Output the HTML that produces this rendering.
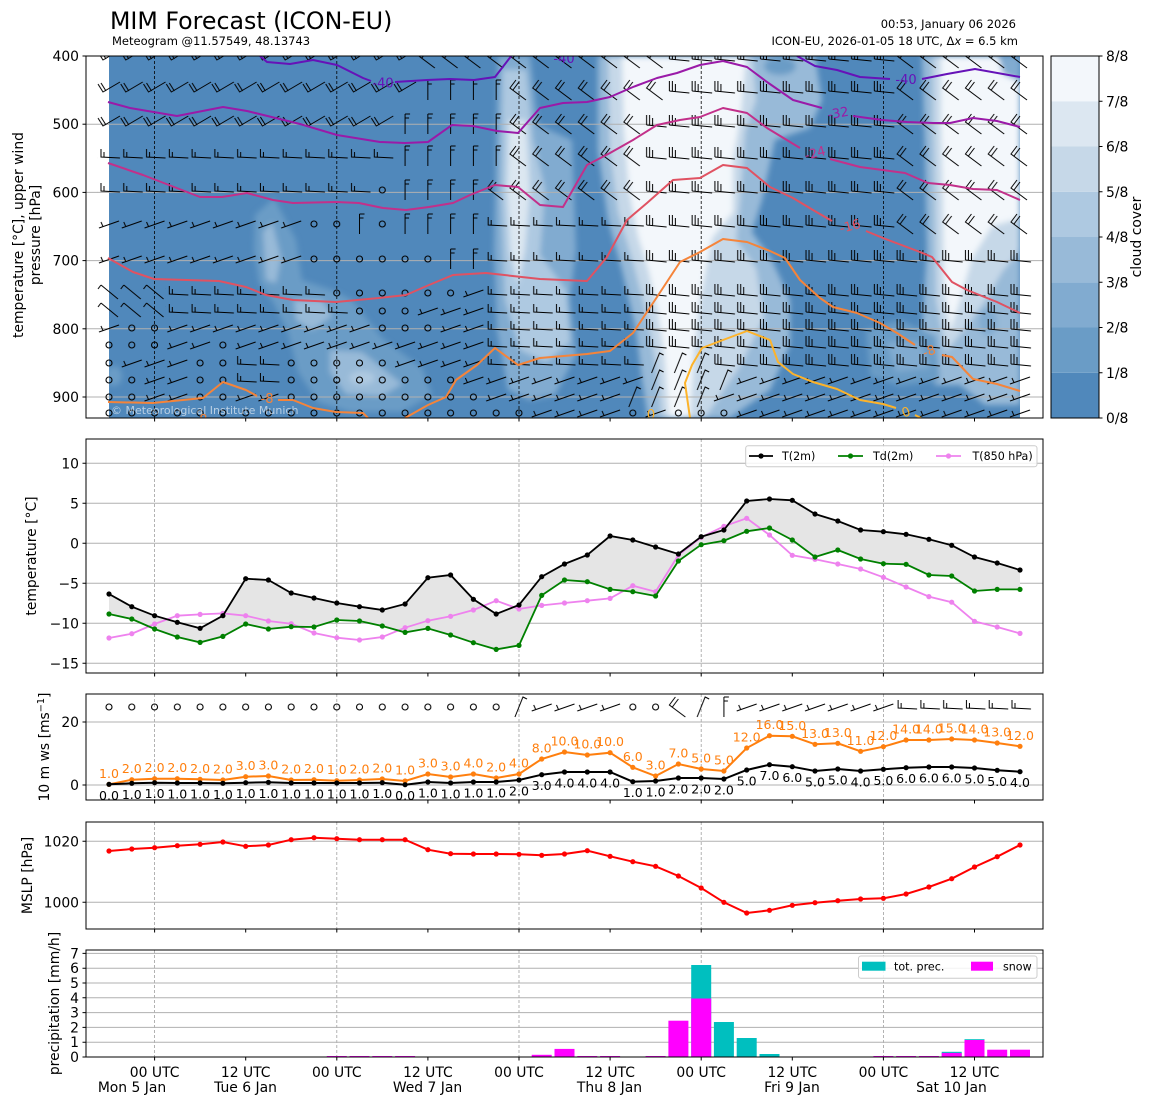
<!DOCTYPE html>
<html><head><meta charset="utf-8">
<style>
html,body{margin:0;padding:0;background:#fff;}
svg{display:block;}
svg text{font-family:"DejaVu Sans","Liberation Sans",sans-serif;}
</style></head>
<body>
<svg width="1155" height="1105" viewBox="0 0 1155 1105" xmlns="http://www.w3.org/2000/svg">
<defs>
<clipPath id="cpc"><rect x="109" y="56" width="911" height="362"/></clipPath>
<clipPath id="cp1"><rect x="86" y="56" width="957" height="362"/></clipPath>
<filter id="bl" x="-5%" y="-5%" width="110%" height="110%"><feGaussianBlur stdDeviation="3"/></filter>
<pattern id="pV" x="97.6125" y="-13" width="22.775" height="26" patternUnits="userSpaceOnUse"><path transform="translate(11.3875,13)" d="M-11,-6 L-6,2 L11,-8 M-8,-7 L-3,1" fill="none" stroke="#000" stroke-width="1"/></pattern>
<pattern id="pL" x="97.6125" y="-13" width="22.775" height="26" patternUnits="userSpaceOnUse"><path transform="translate(11.3875,13)" d="M-9,1 L11,3 M-9,1 L-9,-9 M-6,1.3 L-6,-9 M-3,1.6 L-3,-6" fill="none" stroke="#000" stroke-width="1"/></pattern>
<pattern id="pH" x="97.6125" y="-13" width="22.775" height="26" patternUnits="userSpaceOnUse"><path transform="translate(11.3875,13)" d="M-8,-7 L-8,1 L11,2 M-5,1.2 L-5,-4" fill="none" stroke="#000" stroke-width="1"/></pattern>
<pattern id="pN" x="97.6125" y="-13" width="22.775" height="26" patternUnits="userSpaceOnUse"><path transform="translate(11.3875,13)" d="M-3,-10 L-9,-2 L7,10 M0,-8 L-6,0" fill="none" stroke="#000" stroke-width="1"/></pattern>
<pattern id="pS" x="97.6125" y="-13" width="22.775" height="26" patternUnits="userSpaceOnUse"><path transform="translate(11.3875,13)" d="M-10,4 L10,-3 M-6,2.6 L-8,-2" fill="none" stroke="#000" stroke-width="1"/></pattern>
<pattern id="pS2" x="97.6125" y="-13" width="22.775" height="26" patternUnits="userSpaceOnUse"><path transform="translate(11.3875,13)" d="M-8,-8 L9,6 M-8,-8 L-11,-4" fill="none" stroke="#000" stroke-width="1"/></pattern>
<pattern id="pD" x="97.6125" y="-13" width="22.775" height="26" patternUnits="userSpaceOnUse"><path transform="translate(11.3875,13)" d="M-4,10 L4,-10 L8,-8" fill="none" stroke="#000" stroke-width="1"/></pattern>
<pattern id="pU" x="97.6125" y="-13" width="22.775" height="26" patternUnits="userSpaceOnUse"><path transform="translate(11.3875,13)" d="M0,-10 L0,10 M0,-10 L5,-10 M0,-6 L4,-6" fill="none" stroke="#000" stroke-width="1"/></pattern>
<pattern id="pC" x="97.6125" y="-13" width="22.775" height="26" patternUnits="userSpaceOnUse"><circle cx="11.3875" cy="13" r="3" fill="none" stroke="#000" stroke-width="1.1"/></pattern>
<marker id="mk" markerWidth="6" markerHeight="6" refX="3" refY="3" markerUnits="userSpaceOnUse"><circle cx="3" cy="3" r="2.6" fill="#000"/></marker>
<marker id="mg" markerWidth="6" markerHeight="6" refX="3" refY="3" markerUnits="userSpaceOnUse"><circle cx="3" cy="3" r="2.6" fill="#008000"/></marker>
<marker id="mv" markerWidth="6" markerHeight="6" refX="3" refY="3" markerUnits="userSpaceOnUse"><circle cx="3" cy="3" r="2.6" fill="#ee82ee"/></marker>
<marker id="mo" markerWidth="6" markerHeight="6" refX="3" refY="3" markerUnits="userSpaceOnUse"><circle cx="3" cy="3" r="2.6" fill="#ff7f0e"/></marker>
<marker id="mr" markerWidth="6" markerHeight="6" refX="3" refY="3" markerUnits="userSpaceOnUse"><circle cx="3" cy="3" r="2.6" fill="#ff0000"/></marker>
</defs>

<!-- Titles -->
<text x="110" y="29" font-size="23.7">MIM Forecast (ICON-EU)</text>
<text x="112" y="45" font-size="11.5">Meteogram @11.57549, 48.13743</text>
<text x="1016" y="28" font-size="11.5" text-anchor="end">00:53, January 06 2026</text>
<text x="1018" y="45" font-size="11.5" text-anchor="end">ICON-EU, 2026-01-05 18 UTC, Δ<tspan font-style="italic">x</tspan> = 6.5 km</text>

<!-- ============ PANEL 1 ============ -->
<rect x="109" y="56" width="911" height="362" fill="#5088bb"/>
<g clip-path="url(#cpc)">
<g filter="url(#bl)">
<path fill="#81abd0" d="M498,56 L530,56 L538,125 L572,140 L576,250 L570,300 L576,355 L555,395 L530,400 L508,390 L497,330 L494,250 L496,150 Z"/>
<path fill="#aec9e1" d="M503,70 L526,70 L533,140 L545,190 L540,255 L566,290 L570,342 L546,362 L520,350 L505,300 L501,200 Z"/>
<path fill="#dce7f1" d="M509,120 L526,120 L530,190 L525,250 L518,285 L510,250 L507,190 Z"/>
<path fill="#98bad8" d="M598,56 L815,56 L822,100 L810,128 L775,140 L762,200 L752,232 L772,260 L790,300 L790,345 L770,390 L730,418 L648,418 L642,380 L636,330 L622,270 L608,220 L598,150 Z"/>
<ellipse cx="780" cy="66" rx="16" ry="9" fill="#6a9cc6"/>
<path fill="#c6d8e8" d="M608,56 L752,56 L756,100 L745,132 L740,200 L736,240 L756,268 L764,318 L740,366 L705,418 L662,418 L657,370 L648,320 L633,262 L618,212 L610,150 Z"/>
<path fill="#f3f7fb" d="M622,56 L746,56 L741,112 L733,160 L733,212 L712,238 L700,300 L694,350 L690,418 L669,418 L665,360 L658,312 L649,272 L638,236 L629,190 L624,130 Z"/>
<path fill="#98bad8" d="M922,56 L1020,56 L1020,405 L985,405 L960,385 L935,385 L922,330 L927,250 L925,150 Z"/>
<path fill="#c6d8e8" d="M933,56 L1020,56 L1020,250 L1002,272 L986,300 L962,332 L946,352 L936,300 L935,200 L933,120 Z"/>
<path fill="#f3f7fb" d="M941,56 L1020,56 L1020,218 L992,226 L972,258 L960,300 L950,332 L944,282 L943,200 L941,120 Z"/>
<path fill="#81abd0" d="M998,56 L1020,56 L1020,82 L1003,74 Z"/>
<ellipse cx="988" cy="322" rx="9" ry="14" fill="#81abd0"/>
<path fill="#6a9cc6" d="M255,215 L274,198 L296,240 L302,280 L332,290 L352,300 L382,338 L422,368 L432,395 L402,412 L350,412 L318,402 L298,372 L288,332 L273,302 L259,282 L254,250 Z"/>
<path fill="#98bad8" d="M263,232 L272,222 L281,258 L276,283 L266,280 Z"/>
<path fill="#98bad8" d="M294,300 L322,300 L332,316 L312,330 L296,320 Z"/>
<path fill="#98bad8" d="M330,350 L362,352 L402,384 L382,396 L346,394 L330,372 Z"/>
<ellipse cx="362" cy="378" rx="13" ry="7" fill="#aec9e1"/>
<ellipse cx="114" cy="376" rx="8" ry="10" fill="#6a9cc6"/>
<path fill="#6a9cc6" d="M866,330 L900,320 L936,336 L940,380 L900,386 L870,376 Z"/>
<path fill="#81abd0" d="M886,342 L920,342 L930,368 L896,372 Z"/>
</g>
</g>

<!-- grid panel 1 -->
<g stroke="#b0b0b0" stroke-width="1">
<line x1="86" y1="124.2" x2="1043" y2="124.2"/>
<line x1="86" y1="192.4" x2="1043" y2="192.4"/>
<line x1="86" y1="260.6" x2="1043" y2="260.6"/>
<line x1="86" y1="328.8" x2="1043" y2="328.8"/>
<line x1="86" y1="397" x2="1043" y2="397"/>
</g>
<g stroke="#000" stroke-width="0.8" stroke-dasharray="3,2">
<line x1="154.6" y1="56" x2="154.6" y2="418"/>
<line x1="336.8" y1="56" x2="336.8" y2="418"/>
<line x1="519" y1="56" x2="519" y2="418"/>
<line x1="701.2" y1="56" x2="701.2" y2="418"/>
<line x1="883.4" y1="56" x2="883.4" y2="418"/>
</g>

<!-- barbs -->
<g clip-path="url(#cp1)">
<g transform="translate(0,58)">
<rect x="97.61" y="-13" width="318.85" height="26" fill="url(#pV)"/>
<rect x="416.46" y="-13" width="113.88" height="26" fill="url(#pN)"/>
<rect x="530.34" y="-13" width="136.65" height="26" fill="url(#pN)"/>
<rect x="666.99" y="-13" width="227.75" height="26" fill="url(#pL)"/>
<rect x="894.74" y="-13" width="136.65" height="26" fill="url(#pN)"/>
</g>
<g transform="translate(0,90)">
<rect x="97.61" y="-13" width="318.85" height="26" fill="url(#pV)"/>
<rect x="416.46" y="-13" width="91.1" height="26" fill="url(#pU)"/>
<rect x="507.56" y="-13" width="159.43" height="26" fill="url(#pN)"/>
<rect x="666.99" y="-13" width="227.75" height="26" fill="url(#pL)"/>
<rect x="894.74" y="-13" width="136.65" height="26" fill="url(#pN)"/>
</g>
<g transform="translate(0,124)">
<rect x="97.61" y="-13" width="296.08" height="26" fill="url(#pV)"/>
<rect x="393.69" y="-13" width="113.88" height="26" fill="url(#pU)"/>
<rect x="507.56" y="-13" width="136.65" height="26" fill="url(#pN)"/>
<rect x="644.21" y="-13" width="250.53" height="26" fill="url(#pL)"/>
<rect x="894.74" y="-13" width="136.65" height="26" fill="url(#pN)"/>
</g>
<g transform="translate(0,156)">
<rect x="97.61" y="-13" width="296.08" height="26" fill="url(#pH)"/>
<rect x="393.69" y="-13" width="113.88" height="26" fill="url(#pU)"/>
<rect x="507.56" y="-13" width="136.65" height="26" fill="url(#pN)"/>
<rect x="644.21" y="-13" width="250.53" height="26" fill="url(#pL)"/>
<rect x="894.74" y="-13" width="136.65" height="26" fill="url(#pN)"/>
</g>
<g transform="translate(0,190)">
<rect x="97.61" y="-13" width="273.3" height="26" fill="url(#pH)"/>
<rect x="370.91" y="-13" width="22.78" height="26" fill="url(#pC)"/>
<rect x="393.69" y="-13" width="91.1" height="26" fill="url(#pU)"/>
<rect x="484.79" y="-13" width="159.43" height="26" fill="url(#pN)"/>
<rect x="644.21" y="-13" width="250.53" height="26" fill="url(#pL)"/>
<rect x="894.74" y="-13" width="136.65" height="26" fill="url(#pN)"/>
</g>
<g transform="translate(0,224)">
<rect x="97.61" y="-13" width="204.98" height="26" fill="url(#pS)"/>
<rect x="302.59" y="-13" width="45.55" height="26" fill="url(#pC)"/>
<rect x="348.14" y="-13" width="22.78" height="26" fill="url(#pU)"/>
<rect x="370.91" y="-13" width="22.78" height="26" fill="url(#pC)"/>
<rect x="393.69" y="-13" width="91.1" height="26" fill="url(#pU)"/>
<rect x="484.79" y="-13" width="159.43" height="26" fill="url(#pH)"/>
<rect x="644.21" y="-13" width="250.53" height="26" fill="url(#pL)"/>
<rect x="894.74" y="-13" width="136.65" height="26" fill="url(#pN)"/>
</g>
<g transform="translate(0,259)">
<rect x="97.61" y="-13" width="204.98" height="26" fill="url(#pS)"/>
<rect x="302.59" y="-13" width="136.65" height="26" fill="url(#pC)"/>
<rect x="439.24" y="-13" width="45.55" height="26" fill="url(#pU)"/>
<rect x="484.79" y="-13" width="159.43" height="26" fill="url(#pH)"/>
<rect x="644.21" y="-13" width="387.18" height="26" fill="url(#pL)"/>
</g>
<g transform="translate(0,293)">
<rect x="97.61" y="-13" width="68.33" height="26" fill="url(#pS2)"/>
<rect x="165.94" y="-13" width="159.43" height="26" fill="url(#pH)"/>
<rect x="325.36" y="-13" width="136.65" height="26" fill="url(#pC)"/>
<rect x="462.01" y="-13" width="22.78" height="26" fill="url(#pS)"/>
<rect x="484.79" y="-13" width="159.43" height="26" fill="url(#pH)"/>
<rect x="644.21" y="-13" width="387.18" height="26" fill="url(#pL)"/>
</g>
<g transform="translate(0,311)">
<rect x="97.61" y="-13" width="68.33" height="26" fill="url(#pS2)"/>
<rect x="165.94" y="-13" width="182.2" height="26" fill="url(#pH)"/>
<rect x="348.14" y="-13" width="68.33" height="26" fill="url(#pC)"/>
<rect x="416.46" y="-13" width="68.33" height="26" fill="url(#pS)"/>
<rect x="484.79" y="-13" width="159.43" height="26" fill="url(#pH)"/>
<rect x="644.21" y="-13" width="387.18" height="26" fill="url(#pL)"/>
</g>
<g transform="translate(0,328)">
<rect x="97.61" y="-13" width="22.78" height="26" fill="url(#pS)"/>
<rect x="120.39" y="-13" width="45.55" height="26" fill="url(#pC)"/>
<rect x="165.94" y="-13" width="204.98" height="26" fill="url(#pS)"/>
<rect x="370.91" y="-13" width="68.33" height="26" fill="url(#pC)"/>
<rect x="439.24" y="-13" width="45.55" height="26" fill="url(#pS)"/>
<rect x="484.79" y="-13" width="159.43" height="26" fill="url(#pH)"/>
<rect x="644.21" y="-13" width="387.18" height="26" fill="url(#pL)"/>
</g>
<g transform="translate(0,345)">
<rect x="97.61" y="-13" width="68.33" height="26" fill="url(#pC)"/>
<rect x="165.94" y="-13" width="45.55" height="26" fill="url(#pS)"/>
<rect x="211.49" y="-13" width="22.78" height="26" fill="url(#pC)"/>
<rect x="234.26" y="-13" width="250.53" height="26" fill="url(#pS)"/>
<rect x="484.79" y="-13" width="159.43" height="26" fill="url(#pH)"/>
<rect x="644.21" y="-13" width="387.18" height="26" fill="url(#pL)"/>
</g>
<g transform="translate(0,363)">
<rect x="97.61" y="-13" width="22.78" height="26" fill="url(#pC)"/>
<rect x="120.39" y="-13" width="68.33" height="26" fill="url(#pS)"/>
<rect x="188.71" y="-13" width="45.55" height="26" fill="url(#pC)"/>
<rect x="234.26" y="-13" width="45.55" height="26" fill="url(#pH)"/>
<rect x="279.81" y="-13" width="113.88" height="26" fill="url(#pC)"/>
<rect x="393.69" y="-13" width="91.1" height="26" fill="url(#pS)"/>
<rect x="484.79" y="-13" width="159.43" height="26" fill="url(#pH)"/>
<rect x="644.21" y="-13" width="68.33" height="26" fill="url(#pD)"/>
<rect x="712.54" y="-13" width="318.85" height="26" fill="url(#pL)"/>
</g>
<g transform="translate(0,380)">
<rect x="97.61" y="-13" width="45.55" height="26" fill="url(#pC)"/>
<rect x="143.16" y="-13" width="45.55" height="26" fill="url(#pS)"/>
<rect x="188.71" y="-13" width="45.55" height="26" fill="url(#pC)"/>
<rect x="234.26" y="-13" width="45.55" height="26" fill="url(#pH)"/>
<rect x="279.81" y="-13" width="182.2" height="26" fill="url(#pC)"/>
<rect x="462.01" y="-13" width="182.2" height="26" fill="url(#pS)"/>
<rect x="644.21" y="-13" width="91.1" height="26" fill="url(#pD)"/>
<rect x="735.31" y="-13" width="296.08" height="26" fill="url(#pS)"/>
</g>
<g transform="translate(0,397)">
<rect x="97.61" y="-13" width="45.55" height="26" fill="url(#pC)"/>
<rect x="143.16" y="-13" width="45.55" height="26" fill="url(#pS)"/>
<rect x="188.71" y="-13" width="45.55" height="26" fill="url(#pC)"/>
<rect x="234.26" y="-13" width="45.55" height="26" fill="url(#pS)"/>
<rect x="279.81" y="-13" width="204.98" height="26" fill="url(#pC)"/>
<rect x="484.79" y="-13" width="136.65" height="26" fill="url(#pS)"/>
<rect x="621.44" y="-13" width="91.1" height="26" fill="url(#pD)"/>
<rect x="712.54" y="-13" width="318.85" height="26" fill="url(#pS)"/>
</g>
<g transform="translate(0,413)">
<rect x="97.61" y="-13" width="432.73" height="26" fill="url(#pC)"/>
<rect x="530.34" y="-13" width="91.1" height="26" fill="url(#pS)"/>
<rect x="621.44" y="-13" width="22.78" height="26" fill="url(#pC)"/>
<rect x="644.21" y="-13" width="22.78" height="26" fill="url(#pS)"/>
<rect x="666.99" y="-13" width="68.33" height="26" fill="url(#pC)"/>
<rect x="735.31" y="-13" width="296.08" height="26" fill="url(#pS)"/>
</g>

<!-- isotherms -->
<g fill="none" stroke-width="2" stroke-linejoin="round">
<polyline stroke="#6612b8" points="260,56 267,62 290,64 313,60 337,65 363,78 371,81"/>
<polyline stroke="#6612b8" points="395,82 427,80 450,79 474,80 495,77 512,55"/>
<polyline stroke="#6612b8" points="797,56 815,66 837,70 860,77 890,79"/>
<polyline stroke="#6612b8" points="922,79 947,74 975,69 1020,77"/>
<polyline stroke="#9a1aa8" points="108,102 130,108 177,116 223,107 247,111 300,124 337,135 380,142 405,143 428,142 452,125 473,126 497,131 518,133 540,108 563,103 587,102 610,97 633,87 657,78 677,73 700,65 723,61 747,67 767,82 793,100 822,108"/>
<polyline stroke="#9a1aa8" points="853,116 882,120 907,122 933,123 950,123 973,118 997,121 1020,127"/>
<polyline stroke="#c2308a" points="108,163 143,175 200,197 222,197 247,193 273,200 293,203 336,202 359,203 383,208 406,210 429,207 453,203 470,195 495,185 518,187 540,205 563,207 587,165 610,153 633,140 657,125 680,120 700,117 723,108 747,113 767,128 800,148"/>
<polyline stroke="#c2308a" points="830,159 860,167 905,173 928,183 950,185 973,189 997,190 1020,200"/>
<polyline stroke="#e05262" points="108,258 133,272 154,279 219,281 246,287 266,295 293,300 336,302 379,298 406,295 429,285 453,275 486,273 540,279 587,281 607,257 627,220 647,203 673,180 700,178 723,165 747,168 770,187 793,198 813,210 832,221"/>
<polyline stroke="#e05262" points="866,231 883,238 920,252 932,257 952,282 967,290 997,302 1020,313"/>
<polyline stroke="#f5843a" points="108,402 153,403 203,398 223,382 246,390 257,396"/>
<polyline stroke="#f5843a" points="278,400 293,400 313,408 336,412 363,413 368,418"/>
<polyline stroke="#f5843a" points="405,418 428,405 446,397 456,380 477,365 495,348 518,365 540,358 587,354 610,351 633,333 657,297 680,262 700,252 723,239 747,242 770,251 785,258 800,280 820,298 833,307 857,313 880,323 897,333 915,345"/>
<polyline stroke="#f5843a" points="942,355 952,357 973,379 997,384 1020,391"/>
<polyline stroke="#fdb32a" points="690,418 685,383 692,365 702,348 723,340 747,331 770,340 778,362 793,374 813,382 837,389 860,400 883,404 896,408"/>
<polyline stroke="#fdb32a" points="915,415 921,418"/>
</g>
<g font-size="13" text-anchor="middle">
<text x="383" y="87.5" fill="#6612b8">-40</text>
<text x="564" y="63" fill="#6612b8">-40</text>
<text x="906" y="84" fill="#6612b8">-40</text>
<text transform="translate(838,113) rotate(-10)" y="4.5" fill="#9a1aa8">-32</text>
<text transform="translate(815,153) rotate(-15)" y="4.5" fill="#c2308a">-24</text>
<text transform="translate(850,226) rotate(-15)" y="4.5" fill="#e05262">-16</text>
<text transform="translate(929,351) rotate(-20)" y="4.5" fill="#f5843a">-8</text>
<text x="267" y="403" fill="#f5843a">-8</text>
<text x="201" y="424" fill="#f5843a">-8</text>
<text transform="translate(906,412) rotate(-20)" y="4.5" fill="#fdb32a">0</text>
<text x="651" y="419" fill="#fdb32a">0</text>
</g>
</g>
<text x="111" y="414" font-size="11" fill="#ffffff" fill-opacity="0.6">© Meteorological Institute Munich</text>
<rect x="86" y="56" width="957" height="362" fill="none" stroke="#000" stroke-width="1"/>

<!-- panel 1 y ticks -->
<g stroke="#000" stroke-width="1">
<line x1="82.5" y1="56" x2="86" y2="56"/><line x1="82.5" y1="124.2" x2="86" y2="124.2"/><line x1="82.5" y1="192.4" x2="86" y2="192.4"/><line x1="82.5" y1="260.6" x2="86" y2="260.6"/><line x1="82.5" y1="328.8" x2="86" y2="328.8"/><line x1="82.5" y1="397" x2="86" y2="397"/>
</g>
<g font-size="13.9" text-anchor="end">
<text x="79" y="61">400</text><text x="79" y="129.2">500</text><text x="79" y="197.4">600</text><text x="79" y="265.6">700</text><text x="79" y="333.8">800</text><text x="79" y="402">900</text>
</g>
<text transform="translate(23,235) rotate(-90)" font-size="13.9" text-anchor="middle">temperature [°C], upper wind</text>
<text transform="translate(40,235) rotate(-90)" font-size="13.9" text-anchor="middle">pressure [hPa]</text>

<!-- colorbar -->
<rect x="1051" y="372.75" width="48" height="45.25" fill="#5088bb"/>
<rect x="1051" y="327.5" width="48" height="45.25" fill="#6a9cc6"/>
<rect x="1051" y="282.25" width="48" height="45.25" fill="#81abd0"/>
<rect x="1051" y="237" width="48" height="45.25" fill="#98bad8"/>
<rect x="1051" y="191.75" width="48" height="45.25" fill="#aec9e1"/>
<rect x="1051" y="146.5" width="48" height="45.25" fill="#c6d8e8"/>
<rect x="1051" y="101.25" width="48" height="45.25" fill="#dce7f1"/>
<rect x="1051" y="56" width="48" height="45.25" fill="#f3f7fb"/>
<rect x="1051" y="56" width="48" height="362" fill="none" stroke="#000" stroke-width="1"/>
<g stroke="#000" stroke-width="1">
<line x1="1099" y1="56" x2="1102.5" y2="56"/><line x1="1099" y1="101.25" x2="1102.5" y2="101.25"/><line x1="1099" y1="146.5" x2="1102.5" y2="146.5"/><line x1="1099" y1="191.75" x2="1102.5" y2="191.75"/><line x1="1099" y1="237" x2="1102.5" y2="237"/><line x1="1099" y1="282.25" x2="1102.5" y2="282.25"/><line x1="1099" y1="327.5" x2="1102.5" y2="327.5"/><line x1="1099" y1="372.75" x2="1102.5" y2="372.75"/><line x1="1099" y1="418" x2="1102.5" y2="418"/>
</g>
<g font-size="13.9">
<text x="1106" y="61">8/8</text><text x="1106" y="106.25">7/8</text><text x="1106" y="151.5">6/8</text><text x="1106" y="196.75">5/8</text><text x="1106" y="242">4/8</text><text x="1106" y="287.25">3/8</text><text x="1106" y="332.5">2/8</text><text x="1106" y="377.75">1/8</text><text x="1106" y="423">0/8</text>
</g>
<text transform="translate(1141,237) rotate(-90)" font-size="13.9" text-anchor="middle">cloud cover</text>

<!-- bottom ticks for panels 1-5 -->
<g stroke="#000" stroke-width="1">
<path d="M154.6,418v3.5M245.7,418v3.5M336.8,418v3.5M427.9,418v3.5M519,418v3.5M610.1,418v3.5M701.2,418v3.5M792.3,418v3.5M883.4,418v3.5M974.5,418v3.5"/>
<path d="M154.6,673v3.5M245.7,673v3.5M336.8,673v3.5M427.9,673v3.5M519,673v3.5M610.1,673v3.5M701.2,673v3.5M792.3,673v3.5M883.4,673v3.5M974.5,673v3.5"/>
<path d="M154.6,800v3.5M245.7,800v3.5M336.8,800v3.5M427.9,800v3.5M519,800v3.5M610.1,800v3.5M701.2,800v3.5M792.3,800v3.5M883.4,800v3.5M974.5,800v3.5"/>
<path d="M154.6,929v3.5M245.7,929v3.5M336.8,929v3.5M427.9,929v3.5M519,929v3.5M610.1,929v3.5M701.2,929v3.5M792.3,929v3.5M883.4,929v3.5M974.5,929v3.5"/>
<path d="M154.6,1057v3.5M245.7,1057v3.5M336.8,1057v3.5M427.9,1057v3.5M519,1057v3.5M610.1,1057v3.5M701.2,1057v3.5M792.3,1057v3.5M883.4,1057v3.5M974.5,1057v3.5"/>
</g>

<!-- vertical dashed gray for panels 2-5 -->
<g stroke="#a0a0a0" stroke-width="0.8" stroke-dasharray="3,2">
<path d="M154.6,439V673M336.8,439V673M519,439V673M701.2,439V673M883.4,439V673"/>
<path d="M154.6,694V800M336.8,694V800M519,694V800M701.2,694V800M883.4,694V800"/>
<path d="M154.6,822V929M336.8,822V929M519,822V929M701.2,822V929M883.4,822V929"/>
<path d="M154.6,950V1057M336.8,950V1057M519,950V1057M701.2,950V1057M883.4,950V1057"/>
</g>

<!-- ============ PANEL 2 ============ -->
<g stroke="#b0b0b0" stroke-width="1">
<path d="M86,463.3H1043M86,503.3H1043M86,543.3H1043M86,583.3H1043M86,623.3H1043M86,663.3H1043"/>
</g>
<polygon fill="#e5e5e5" points="109,594 131.8,606.7 154.6,615.7 177.3,622.3 200.1,628.3 222.9,615.7 245.7,578.7 268.4,580 291.2,593 314,598 336.8,603 359.5,606.7 382.3,610 405.1,604 427.9,577.7 450.6,575 473.4,599.3 496.2,614 519,605 541.7,576.7 564.5,564 587.3,555 610.1,536 632.8,540 655.6,547 678.4,554 701.2,536.7 723.9,530 746.7,501 769.5,499 792.3,500.3 815,514 837.8,521 860.6,530 883.4,531.7 906.1,534.3 928.9,539.3 951.7,545.3 974.5,557 997.2,563 1020,570 1020,589.4 997.2,589.4 974.5,591 951.7,576 928.9,575 906.1,564.3 883.4,563.7 860.6,559 837.8,550 815,557 792.3,540 769.5,528 746.7,531.3 723.9,540.7 701.2,544.7 678.4,561 655.6,596 632.8,591.7 610.1,589.4 587.3,581.7 564.5,580 541.7,595.4 519,645.4 496.2,649.4 473.4,642.7 450.6,635 427.9,628.4 405.1,632.4 382.3,626 359.5,621 336.8,620 314,627 291.2,626.7 268.4,629 245.7,624 222.9,636.4 200.1,642.4 177.3,637 154.6,629 131.8,619 109,614"/>
<polyline fill="none" stroke="#ee82ee" stroke-width="1.8" marker-start="url(#mv)" marker-mid="url(#mv)" marker-end="url(#mv)" points="109,638 131.8,633.7 154.6,624 177.3,615.7 200.1,614.4 222.9,613.4 245.7,615.7 268.4,621 291.2,623.7 314,633 336.8,637.7 359.5,640 382.3,637 405.1,627.7 427.9,620.7 450.6,616.3 473.4,610 496.2,600.7 519,609 541.7,605.4 564.5,603 587.3,600.7 610.1,598.4 632.8,585.7 655.6,591.7 678.4,555 701.2,537.3 723.9,526.3 746.7,518.3 769.5,535 792.3,555.3 815,559.3 837.8,564 860.6,569 883.4,577.3 906.1,587 928.9,596.6 951.7,602.2 974.5,621.4 997.2,627 1020,633.4"/>
<polyline fill="none" stroke="#008000" stroke-width="1.8" marker-start="url(#mg)" marker-mid="url(#mg)" marker-end="url(#mg)" points="109,614 131.8,619 154.6,629 177.3,637 200.1,642.4 222.9,636.4 245.7,624 268.4,629 291.2,626.7 314,627 336.8,620 359.5,621 382.3,626 405.1,632.4 427.9,628.4 450.6,635 473.4,642.7 496.2,649.4 519,645.4 541.7,595.4 564.5,580 587.3,581.7 610.1,589.4 632.8,591.7 655.6,596 678.4,561 701.2,544.7 723.9,540.7 746.7,531.3 769.5,528 792.3,540 815,557 837.8,550 860.6,559 883.4,563.7 906.1,564.3 928.9,575 951.7,576 974.5,591 997.2,589.4 1020,589.4"/>
<polyline fill="none" stroke="#000" stroke-width="1.8" marker-start="url(#mk)" marker-mid="url(#mk)" marker-end="url(#mk)" points="109,594 131.8,606.7 154.6,615.7 177.3,622.3 200.1,628.3 222.9,615.7 245.7,578.7 268.4,580 291.2,593 314,598 336.8,603 359.5,606.7 382.3,610 405.1,604 427.9,577.7 450.6,575 473.4,599.3 496.2,614 519,605 541.7,576.7 564.5,564 587.3,555 610.1,536 632.8,540 655.6,547 678.4,554 701.2,536.7 723.9,530 746.7,501 769.5,499 792.3,500.3 815,514 837.8,521 860.6,530 883.4,531.7 906.1,534.3 928.9,539.3 951.7,545.3 974.5,557 997.2,563 1020,570"/>
<!-- legend panel 2 -->
<rect x="745.7" y="445.7" width="291.3" height="21" rx="2.5" fill="#fff" fill-opacity="0.85" stroke="#cccccc" stroke-width="1"/>
<line x1="749" y1="456" x2="773" y2="456" stroke="#000" stroke-width="1.8"/><circle cx="761" cy="456" r="2.6" fill="#000"/>
<line x1="838" y1="456" x2="863" y2="456" stroke="#008000" stroke-width="1.8"/><circle cx="850.5" cy="456" r="2.6" fill="#008000"/>
<line x1="936" y1="456" x2="961" y2="456" stroke="#ee82ee" stroke-width="1.8"/><circle cx="948.5" cy="456" r="2.6" fill="#ee82ee"/>
<g font-size="11.1"><text x="782" y="460">T(2m)</text><text x="873" y="460">Td(2m)</text><text x="972.5" y="460">T(850 hPa)</text></g>
<rect x="86" y="439" width="957" height="234" fill="none" stroke="#000" stroke-width="1"/>
<g stroke="#000" stroke-width="1"><path d="M82.5,463.3H86M82.5,503.3H86M82.5,543.3H86M82.5,583.3H86M82.5,623.3H86M82.5,663.3H86"/></g>
<g font-size="13.9" text-anchor="end">
<text x="79" y="468.3">10</text><text x="79" y="508.3">5</text><text x="79" y="548.3">0</text><text x="79" y="588.3">−5</text><text x="79" y="628.3">−10</text><text x="79" y="668.3">−15</text>
</g>
<text transform="translate(36,556) rotate(-90)" font-size="13.9" text-anchor="middle">temperature [°C]</text>

<!-- ============ PANEL 3 ============ -->
<g stroke="#b0b0b0" stroke-width="1"><path d="M86,722H1043M86,785H1043"/></g>
<g transform="translate(0,707)">
<rect x="97.61" y="-13" width="409.95" height="26" fill="url(#pC)"/>
<rect x="507.56" y="-13" width="22.78" height="26" fill="url(#pD)"/>
<rect x="530.34" y="-13" width="91.1" height="26" fill="url(#pS)"/>
<rect x="621.44" y="-13" width="45.55" height="26" fill="url(#pC)"/>
<rect x="666.99" y="-13" width="22.78" height="26" fill="url(#pN)"/>
<rect x="689.76" y="-13" width="22.78" height="26" fill="url(#pD)"/>
<rect x="712.54" y="-13" width="22.78" height="26" fill="url(#pU)"/>
<rect x="735.31" y="-13" width="159.43" height="26" fill="url(#pS)"/>
<rect x="894.74" y="-13" width="136.65" height="26" fill="url(#pH)"/>
</g>
<polyline fill="none" stroke="#ff7f0e" stroke-width="2" marker-start="url(#mo)" marker-mid="url(#mo)" marker-end="url(#mo)" points="109,784.3 131.8,779.7 154.6,778.7 177.3,778.7 200.1,779.3 222.9,780 245.7,776.7 268.4,776 291.2,780 314,779.7 336.8,780.7 359.5,780 382.3,779 405.1,781 427.9,774 450.6,777 473.4,774 496.2,778 519,774 541.7,759 564.5,752 587.3,755 610.1,752.7 632.8,767.3 655.6,776 678.4,764 701.2,769 723.9,771 746.7,748 769.5,735.7 792.3,736.3 815,744.3 837.8,743.3 860.6,751.3 883.4,746.7 906.1,740 928.9,740 951.7,739 974.5,740 997.2,743 1020,746.3"/>
<polyline fill="none" stroke="#000" stroke-width="2" marker-start="url(#mk)" marker-mid="url(#mk)" marker-end="url(#mk)" points="109,784.3 131.8,783.3 154.6,782.7 177.3,783 200.1,783 222.9,783.3 245.7,782.7 268.4,782.3 291.2,783 314,783 336.8,783 359.5,783 382.3,782.7 405.1,784.7 427.9,782 450.6,783 473.4,782 496.2,782 519,780 541.7,774.7 564.5,772 587.3,772 610.1,772 632.8,781.7 655.6,781 678.4,778 701.2,778 723.9,779 746.7,770 769.5,764.7 792.3,766.7 815,771 837.8,769 860.6,771 883.4,769.3 906.1,767.7 928.9,767 951.7,767 974.5,768 997.2,770.3 1020,771.7"/>
<g font-size="12.5" text-anchor="middle" fill="#ff7f0e">
<text x="109" y="777.8">1.0</text><text x="131.8" y="773.2">2.0</text><text x="154.6" y="772.2">2.0</text><text x="177.3" y="772.2">2.0</text><text x="200.1" y="772.8">2.0</text><text x="222.9" y="773.5">2.0</text><text x="245.7" y="770.2">3.0</text><text x="268.4" y="769.5">3.0</text><text x="291.2" y="773.5">2.0</text><text x="314" y="773.2">2.0</text><text x="336.8" y="774.2">1.0</text><text x="359.5" y="773.5">2.0</text><text x="382.3" y="772.5">2.0</text><text x="405.1" y="774.5">1.0</text><text x="427.9" y="767.5">3.0</text><text x="450.6" y="770.5">3.0</text><text x="473.4" y="767.5">4.0</text><text x="496.2" y="771.5">2.0</text><text x="519" y="767.5">4.0</text><text x="541.7" y="752.5">8.0</text><text x="564.5" y="745.5">10.0</text><text x="587.3" y="748.5">10.0</text><text x="610.1" y="746.2">10.0</text><text x="632.8" y="760.8">6.0</text><text x="655.6" y="769.5">3.0</text><text x="678.4" y="757.5">7.0</text><text x="701.2" y="762.5">5.0</text><text x="723.9" y="764.5">5.0</text><text x="746.7" y="741.5">12.0</text><text x="769.5" y="729.2">16.0</text><text x="792.3" y="729.8">15.0</text><text x="815" y="737.8">13.0</text><text x="837.8" y="736.8">13.0</text><text x="860.6" y="744.8">11.0</text><text x="883.4" y="740.2">12.0</text><text x="906.1" y="733.5">14.0</text><text x="928.9" y="733.5">14.0</text><text x="951.7" y="732.5">15.0</text><text x="974.5" y="733.5">14.0</text><text x="997.2" y="736.5">13.0</text><text x="1020" y="739.8">12.0</text>
</g>
<g font-size="12.5" text-anchor="middle" fill="#000">
<text x="109" y="799.8">0.0</text><text x="131.8" y="798.8">1.0</text><text x="154.6" y="798.2">1.0</text><text x="177.3" y="798.5">1.0</text><text x="200.1" y="798.5">1.0</text><text x="222.9" y="798.8">1.0</text><text x="245.7" y="798.2">1.0</text><text x="268.4" y="797.8">1.0</text><text x="291.2" y="798.5">1.0</text><text x="314" y="798.5">1.0</text><text x="336.8" y="798.5">1.0</text><text x="359.5" y="798.5">1.0</text><text x="382.3" y="798.2">1.0</text><text x="405.1" y="800.2">0.0</text><text x="427.9" y="797.5">1.0</text><text x="450.6" y="798.5">1.0</text><text x="473.4" y="797.5">1.0</text><text x="496.2" y="797.5">1.0</text><text x="519" y="795.5">2.0</text><text x="541.7" y="790.2">3.0</text><text x="564.5" y="787.5">4.0</text><text x="587.3" y="787.5">4.0</text><text x="610.1" y="787.5">4.0</text><text x="632.8" y="797.2">1.0</text><text x="655.6" y="796.5">1.0</text><text x="678.4" y="793.5">2.0</text><text x="701.2" y="793.5">2.0</text><text x="723.9" y="794.5">2.0</text><text x="746.7" y="785.5">5.0</text><text x="769.5" y="780.2">7.0</text><text x="792.3" y="782.2">6.0</text><text x="815" y="786.5">5.0</text><text x="837.8" y="784.5">5.0</text><text x="860.6" y="786.5">4.0</text><text x="883.4" y="784.8">5.0</text><text x="906.1" y="783.2">6.0</text><text x="928.9" y="782.5">6.0</text><text x="951.7" y="782.5">6.0</text><text x="974.5" y="783.5">5.0</text><text x="997.2" y="785.8">5.0</text><text x="1020" y="787.2">4.0</text>
</g>
<rect x="86" y="694" width="957" height="106" fill="none" stroke="#000" stroke-width="1"/>
<g stroke="#000" stroke-width="1"><path d="M82.5,722H86M82.5,785H86"/></g>
<g font-size="13.9" text-anchor="end"><text x="79" y="727">20</text><text x="79" y="790">0</text></g>
<text transform="translate(49,747) rotate(-90)" font-size="13.9" text-anchor="middle">10 m ws [ms<tspan dy="-5" font-size="9.7">−1</tspan><tspan dy="5">]</tspan></text>

<!-- ============ PANEL 4 ============ -->
<g stroke="#b0b0b0" stroke-width="1"><path d="M86,841.3H1043M86,902.3H1043"/></g>
<polyline fill="none" stroke="#ff0000" stroke-width="2" marker-start="url(#mr)" marker-mid="url(#mr)" marker-end="url(#mr)" points="109,851 131.8,849 154.6,847.7 177.3,845.7 200.1,844.3 222.9,842 245.7,846.3 268.4,845 291.2,839.7 314,837.7 336.8,838.7 359.5,839.7 382.3,839.7 405.1,839.7 427.9,849.7 450.6,853.7 473.4,854 496.2,854 519,854.3 541.7,855.3 564.5,854 587.3,850.7 610.1,856.3 632.8,861.7 655.6,866.3 678.4,876 701.2,888 723.9,902.3 746.7,913 769.5,910.3 792.3,905.3 815,902.7 837.8,900.7 860.6,899 883.4,898.3 906.1,894 928.9,887 951.7,878.7 974.5,867 997.2,856.7 1020,845"/>
<rect x="86" y="822" width="957" height="107" fill="none" stroke="#000" stroke-width="1"/>
<g stroke="#000" stroke-width="1"><path d="M82.5,841.3H86M82.5,902.3H86"/></g>
<g font-size="13.9" text-anchor="end"><text x="79" y="846.3">1020</text><text x="79" y="907.3">1000</text></g>
<text transform="translate(32,875.5) rotate(-90)" font-size="13.9" text-anchor="middle">MSLP [hPa]</text>

<!-- ============ PANEL 5 ============ -->
<g stroke="#b0b0b0" stroke-width="1"><path d="M86,1042.2H1043M86,1027.4H1043M86,1012.6H1043M86,997.8H1043M86,983H1043M86,968.2H1043M86,953.4H1043"/></g>
<g fill="#00bfbf">
<rect x="691.2" y="965" width="20" height="92"/>
<rect x="713.9" y="1022" width="20" height="35"/>
<rect x="736.7" y="1038" width="20" height="19"/>
<rect x="759.5" y="1054" width="20" height="3"/>
<rect x="941.7" y="1051.8" width="20" height="5.2"/>
<rect x="964.5" y="1039.2" width="20" height="17.8"/>
</g>
<g fill="#ff00ff">
<rect x="326.8" y="1056" width="20" height="1"/>
<rect x="349.5" y="1056" width="20" height="1"/>
<rect x="372.3" y="1056" width="20" height="1"/>
<rect x="395.1" y="1056" width="20" height="1"/>
<rect x="531.7" y="1054.8" width="20" height="2.2"/>
<rect x="554.5" y="1048.9" width="20" height="8.1"/>
<rect x="577.3" y="1056" width="20" height="1"/>
<rect x="600.1" y="1056" width="20" height="1"/>
<rect x="645.6" y="1056" width="20" height="1"/>
<rect x="668.4" y="1020.7" width="20" height="36.3"/>
<rect x="691.2" y="998.5" width="20" height="58.5"/>
<rect x="873.4" y="1056" width="20" height="1"/>
<rect x="896.1" y="1056" width="20" height="1"/>
<rect x="918.9" y="1056" width="20" height="1"/>
<rect x="941.7" y="1052.9" width="20" height="4.1"/>
<rect x="964.5" y="1040" width="20" height="17"/>
<rect x="987.2" y="1049.7" width="20" height="7.3"/>
<rect x="1010" y="1049.7" width="20" height="7.3"/>
</g>
<!-- legend panel 5 -->
<rect x="858.5" y="956" width="178.5" height="22.3" rx="2.5" fill="#fff" fill-opacity="0.85" stroke="#cccccc" stroke-width="1"/>
<rect x="862" y="961.7" width="23.5" height="9" fill="#00bfbf"/>
<rect x="971" y="961.7" width="22" height="9" fill="#ff00ff"/>
<g font-size="11.1"><text x="894" y="970.5">tot. prec.</text><text x="1003" y="970.5">snow</text></g>
<rect x="86" y="950" width="957" height="107" fill="none" stroke="#000" stroke-width="1"/>
<g stroke="#000" stroke-width="1"><path d="M82.5,1057H86M82.5,1042.2H86M82.5,1027.4H86M82.5,1012.6H86M82.5,997.8H86M82.5,983H86M82.5,968.2H86M82.5,953.4H86"/></g>
<g font-size="13.9" text-anchor="end">
<text x="79" y="1062">0</text><text x="79" y="1047.2">1</text><text x="79" y="1032.4">2</text><text x="79" y="1017.6">3</text><text x="79" y="1002.8">4</text><text x="79" y="988">5</text><text x="79" y="973.2">6</text><text x="79" y="958.4">7</text>
</g>
<text transform="translate(59,1003.5) rotate(-90)" font-size="13.9" text-anchor="middle">precipitation [mm/h]</text>

<!-- x tick labels -->
<g font-size="13.9" text-anchor="middle">
<text x="154.6" y="1077">00 UTC</text><text x="245.7" y="1077">12 UTC</text><text x="336.8" y="1077">00 UTC</text><text x="427.9" y="1077">12 UTC</text><text x="519" y="1077">00 UTC</text><text x="610.1" y="1077">12 UTC</text><text x="701.2" y="1077">00 UTC</text><text x="792.3" y="1077">12 UTC</text><text x="883.4" y="1077">00 UTC</text><text x="974.5" y="1077">12 UTC</text>
<text x="132" y="1092">Mon 5 Jan</text><text x="245.5" y="1092">Tue 6 Jan</text><text x="427.5" y="1092">Wed 7 Jan</text><text x="609.5" y="1092">Thu 8 Jan</text><text x="792" y="1092">Fri 9 Jan</text><text x="951.5" y="1092">Sat 10 Jan</text>
</g>
</svg>
</body></html>
